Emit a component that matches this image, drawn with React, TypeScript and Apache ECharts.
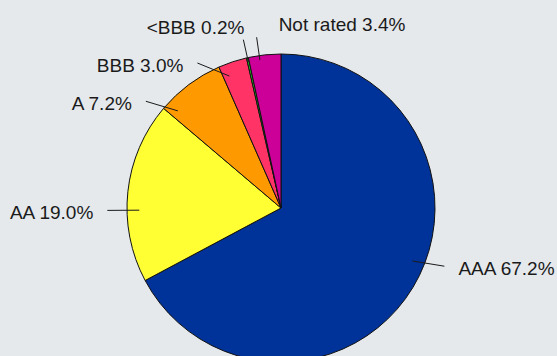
import React, { useEffect, useRef } from "react";
import * as echarts from "echarts";

const categories = ["AAA", "AA", "A", "BBB", "<BBB", "Not rated"];
const shares = [67.2, 19.0, 7.2, 3.0, 0.2, 3.4];
const colors = ["#003399", "#ffff33", "#ff9900", "#ff3366", "#22cc22", "#cc0099"];
// where each leader line leaves its slice, in degrees from the slice's mid-angle (style)
const leaderAngleNudge = [-9, -7, -10, -3, 0, -2];

export default function App() {
  const ref = useRef<HTMLDivElement>(null);
  useEffect(() => {
    document.body.style.margin = "0";
    const chart = echarts.init(ref.current!, null, { renderer: "svg" });
    const R = 154;
    const CX = 281;
    const CY = 208;
    const last = categories.length - 1;
    const rad = Math.PI / 180;
    const at = (deg: number, r: number) => [CX + r * Math.sin(deg * rad), CY - r * Math.cos(deg * rad)];
    const pieData = categories.map((c, i) => ({
      name: c,
      value: shares[i],
      itemStyle: { color: colors[i] },
    }));
    const labelData = categories.map((c, i) => ({ name: c, value: shares[i] }));
    chart.setOption({
      animation: false,
      backgroundColor: "#e5e9ec",
      series: [
        {
          type: "pie",
          z: 2,
          center: [CX, CY],
          radius: [0, R],
          startAngle: 90,
          clockwise: true,
          silent: true,
          label: { show: false },
          labelLine: { show: false },
          itemStyle: { borderColor: "#111", borderWidth: 1 },
          data: pieData,
        },
        {
          type: "pie",
          z: 5,
          center: [CX, CY],
          radius: [0, R * 0.92],
          startAngle: 90,
          clockwise: true,
          silent: true,
          avoidLabelOverlap: false,
          itemStyle: { color: "rgba(0,0,0,0)", borderWidth: 0 },
          label: {
            show: true,
            position: "outside",
            formatter: (p: any) => `${p.name} ${p.value.toFixed(1)}%`,
            fontFamily: "Liberation Sans, Arial, sans-serif",
            fontSize: 19,
            color: "#1a1a1a",
          },
          labelLine: {
            show: true,
            length: 30,
            length2: 0,
            smooth: false,
            lineStyle: { color: "#1a1a1a", width: 1 },
          },
          labelLayout: (p: any) => {
            const pts = p.labelLinePoints;
            if (!pts) return { hideOverlap: false };
            const i = p.dataIndex;
            const mid = Math.atan2(pts[0][0] - CX, CY - pts[0][1]) / rad;
            const theta = mid + leaderAngleNudge[i];
            const fromTop = Math.abs(((theta + 540) % 360) - 180);
            if (fromTop < 15) {
              const inner = at(theta, R * 0.97);
              const end = at(theta, R * 1.12);
              const isLast = i === last;
              return {
                x: isLast ? end[0] + 22 : end[0] + 1,
                y: end[1] - 3,
                align: isLast ? "left" : "right",
                verticalAlign: "bottom",
                labelLinePoints: [inner, end],
                hideOverlap: false,
                moveOverlap: false,
              };
            }
            const inner = at(theta, R * 0.92);
            const right = inner[0] > CX;
            const end = [
              inner[0] + (right ? 32 : -32),
              inner[1] - 14 * Math.cos(theta * rad),
            ];
            return {
              x: right ? end[0] + 14 : end[0] - 14,
              y: end[1] + 2,
              align: right ? "left" : "right",
              verticalAlign: "middle",
              labelLinePoints: [inner, end],
              hideOverlap: false,
              moveOverlap: false,
            };
          },
          data: labelData,
        },
      ],
    });
    return () => chart.dispose();
  }, []);
  return <div ref={ref} style={{ width: 557, height: 356 }} />;
}
